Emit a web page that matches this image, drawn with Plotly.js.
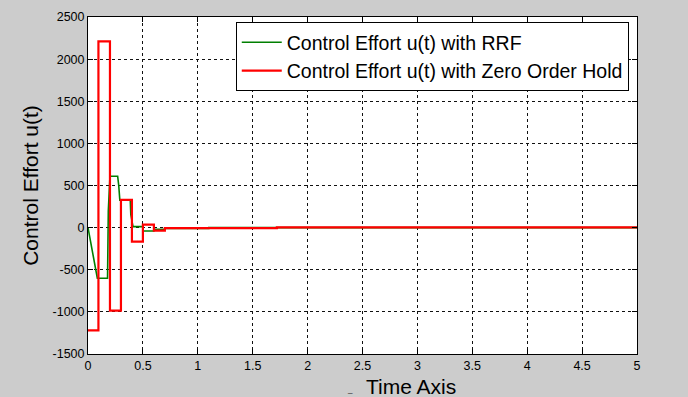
<!DOCTYPE html>
<html>
<head>
<meta charset="utf-8">
<script src="https://cdn.plot.ly/plotly-3.0.1.min.js"></script>
<style>html,body{margin:0;padding:0;background:#cccccc;}#chart{width:688px;height:397px;}</style>
</head>
<body>
<div id="chart"></div>
<script>
// RRF control effort (piecewise)
const rrfTime = [0, 0.08, 0.085, 0.178, 0.18, 0.185, 0.2, 0.27, 0.28, 0.29, 0.385, 0.39, 0.41, 0.5, 0.5, 0.6, 0.6, 0.7, 0.7, 1.1, 1.1, 1.72, 1.72, 1.92, 1.92, 5];
const rrfValue = [0, -540, -600, -600, -220, 200, 610, 610, 500, 325, 325, 155, 12, 12, -40, -40, -20, -20, -10, -10, 0, 0, -6, -6, 0, 0];
// Zero order hold control effort (held values)
const zohTime = [0, 0.095, 0.2, 0.3, 0.4, 0.5, 0.6, 0.7, 1.72, 5];
const zohValue = [-1220, 2210, -985, 330, -165, 36, -36, -6, 3, 3];

const xTicks = [0, 0.5, 1, 1.5, 2, 2.5, 3, 3.5, 4, 4.5, 5];
const yTicks = [-1500, -1000, -500, 0, 500, 1000, 1500, 2000, 2500];

const FONT = 'Liberation Sans, Arial, sans-serif';

const traces = [
  {x: rrfTime, y: rrfValue, mode: 'lines', name: 'Control Effort u(t) with RRF',
   line: {color: '#007f00', width: 1.6}},
  {x: zohTime, y: zohValue, mode: 'lines', name: 'Control Effort u(t) with Zero Order Hold',
   line: {color: '#ff0000', width: 2.2, shape: 'hv'}}
];

const axisCommon = {
  showline: true, linecolor: '#000', linewidth: 1, mirror: 'ticks',
  ticks: 'inside', ticklen: 5, tickcolor: '#000',
  showgrid: true, gridcolor: '#111', griddash: '3px,3px', gridwidth: 1,
  zeroline: false,
  tickfont: {family: FONT, size: 12.5, color: '#000'}
};

const layout = {
  width: 688, height: 397,
  paper_bgcolor: '#cccccc', plot_bgcolor: '#ffffff',
  margin: {l: 88, r: 51, t: 17, b: 43},
  showlegend: true,
  legend: {x: 0.985, y: 0.985, xanchor: 'right', yanchor: 'top',
    bgcolor: '#ffffff', bordercolor: '#000', borderwidth: 1,
    font: {family: FONT, size: 19.5, color: '#000'},
    itemwidth: 40, tracegroupgap: 0},
  xaxis: Object.assign({}, axisCommon, {
    range: [0, 5], tickvals: xTicks, ticktext: xTicks.map(String)
  }),
  yaxis: Object.assign({}, axisCommon, {
    range: [-1500, 2500], tickvals: yTicks, ticktext: yTicks.map(String),
    title: {text: 'Control Effort u(t)', font: {family: FONT, size: 21, color: '#000'}, standoff: 8}
  }),
  annotations: [
    {text: 'Time Axis', xref: 'paper', yref: 'paper', x: 0.588, y: -0.097,
     xanchor: 'center', yanchor: 'middle', showarrow: false,
     font: {family: FONT, size: 21, color: '#000'}},
    {text: '_', xref: 'paper', yref: 'paper', x: 0.477, y: -0.105,
     xanchor: 'center', yanchor: 'middle', showarrow: false,
     font: {family: FONT, size: 8, color: '#000'}}
  ]
};

Plotly.newPlot('chart', traces, layout, {displayModeBar: false, staticPlot: true});
</script>
</body>
</html>
